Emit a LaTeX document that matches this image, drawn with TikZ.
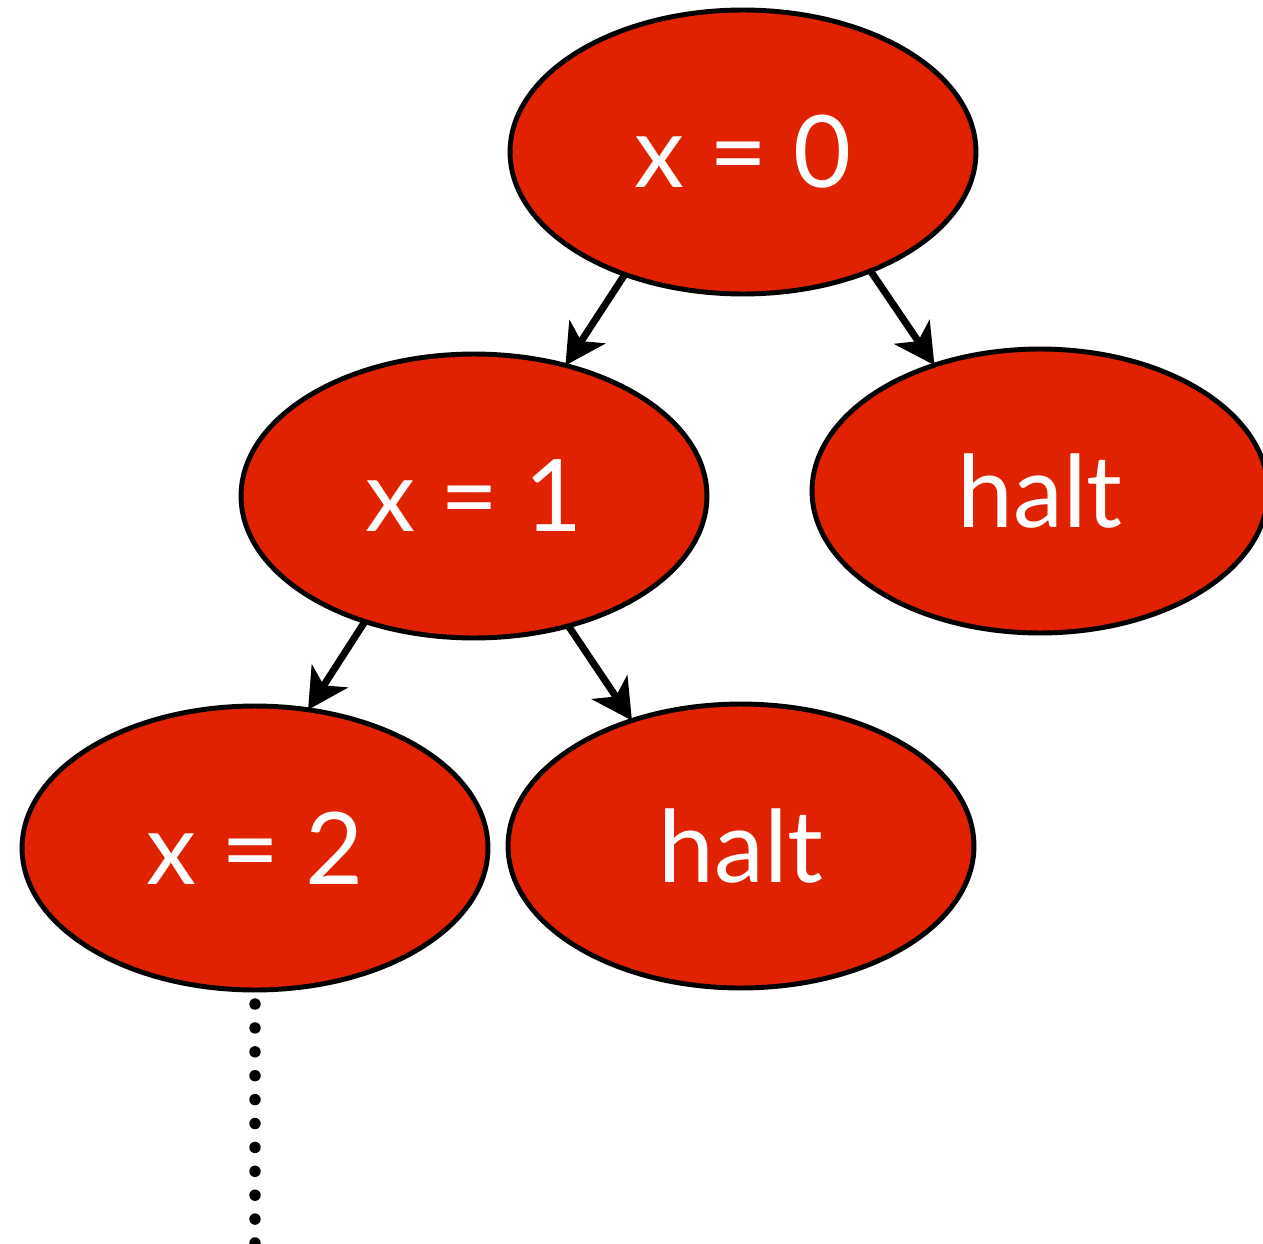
\documentclass[tikz,border=0pt]{standalone}
\usepackage{fontspec}
\setmainfont{Lato}
\usepackage{xcolor}
\usepackage{tikz}
\usetikzlibrary{arrows.meta,shapes.geometric}
\definecolor{rd}{RGB}{224,34,0}
\definecolor{zw}{RGB}{0,0,0}

\begin{document}
\begin{tikzpicture}[x=0.02cm,y=-0.02cm,
  state/.style={ellipse,draw=zw,fill=rd,line width=2.8pt,minimum width=9.32cm,minimum height=5.68cm,
    inner sep=0pt,outer sep=0pt,text=white,font=\fontsize{57}{64}\selectfont},
  arr/.style={-{Stealth[length=0.8cm,width=0.85cm,inset=0.22cm]},line width=4pt,zw}]
  % page frame
  \useasboundingbox (0,0) rectangle (1263,1243);

  % states
  \node[state] (x0) at (743,152) {x = 0};
  \node[state] (x1) at (474,496) {x = 1};
  \node[state,minimum width=9.12cm] (h1) at (1040,491) {halt};
  \node[state] (x2) at (255,848) {x = 2};
  \node[state] (h2) at (741,846) {halt};

  % transitions
  \draw[arr] (x0.226) -- (x1.55);
  \draw[arr] (x0.317) -- (h1.130);
  \draw[arr] (x1.229) -- (x2.69);
  \draw[arr] (x1.306) -- (h2.131);

  % and so on
  \coordinate (dend) at (255,1243);
  \draw[zw,line width=6.5pt,line cap=round,dash pattern=on 0pt off 13.6pt,dash phase=-8pt] (x2.south) -- (dend);
\end{tikzpicture}
\end{document}
